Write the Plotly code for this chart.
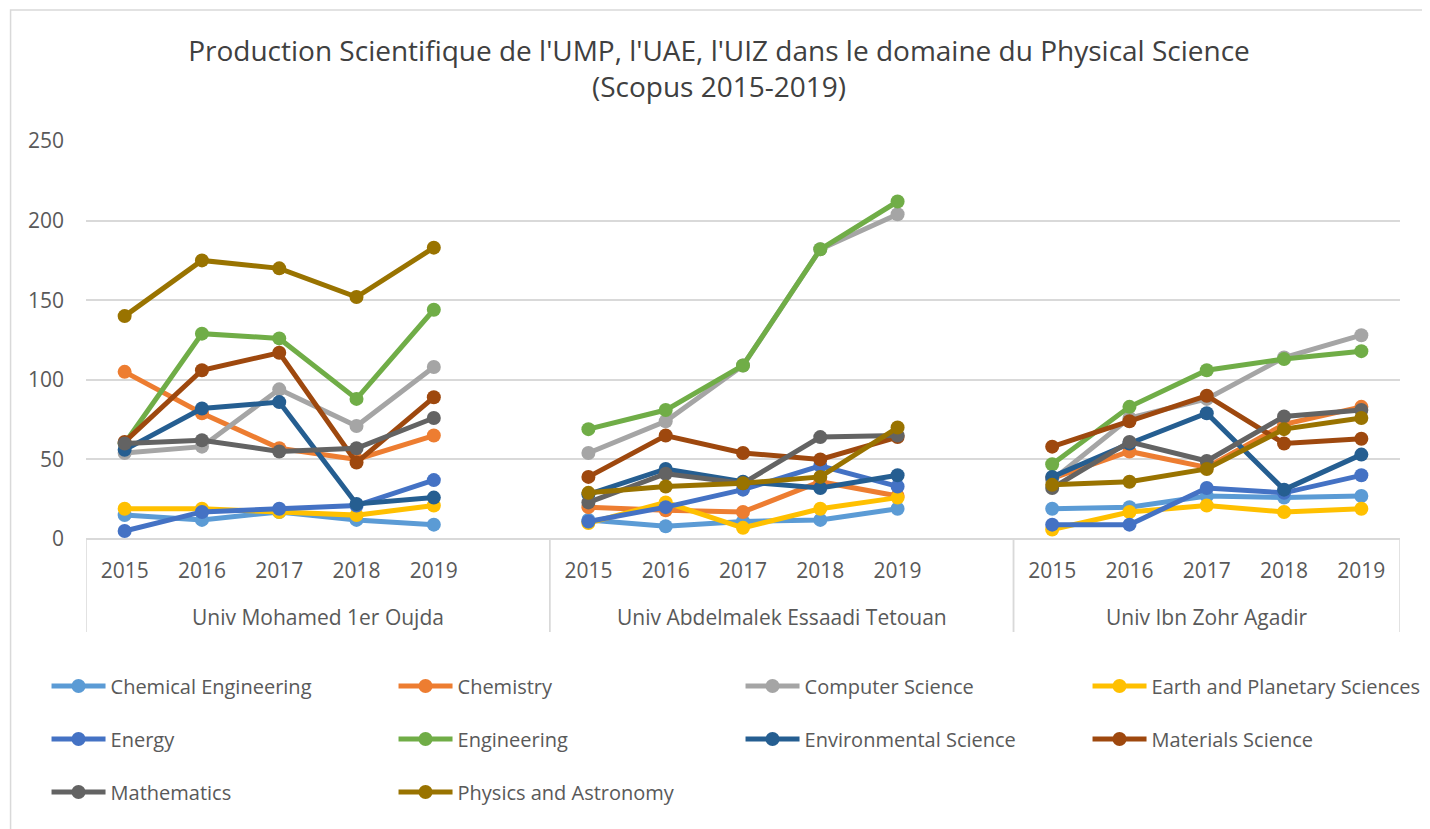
import plotly.graph_objects as go

# ---------------- data ----------------
universities = ["Univ Mohamed 1er Oujda", "Univ Abdelmalek Essaadi Tetouan", "Univ Ibn Zohr Agadir"]
years = ["2015", "2016", "2017", "2018", "2019"]

series_names = [
    "Chemical Engineering", "Chemistry", "Computer Science", "Earth and Planetary Sciences",
    "Energy", "Engineering", "Environmental Science", "Materials Science",
    "Mathematics", "Physics and Astronomy",
]

# values: Oujda 2015-2019, Tetouan 2015-2019, Agadir 2015-2019
chemical_engineering = [15, 12, 17, 12, 9,    12, 8, 11, 12, 19,     19, 20, 27, 26, 27]
chemistry            = [105, 79, 57, 50, 65,  20, 18, 17, 36, 27,    38, 55, 45, 72, 83]
computer_science     = [54, 58, 94, 71, 108,  54, 74, 109, 182, 204, 37, 76, 88, 114, 128]
earth_planetary      = [19, 19, 17, 15, 21,   10, 23, 7, 19, 26,     6, 17, 21, 17, 19]
energy               = [5, 17, 19, 21, 37,    11, 20, 31, 46, 33,    9, 9, 32, 29, 40]
engineering          = [60, 129, 126, 88, 144, 69, 81, 109, 182, 212, 47, 83, 106, 113, 118]
environmental        = [56, 82, 86, 22, 26,   28, 44, 36, 32, 40,    39, 60, 79, 31, 53]
materials            = [61, 106, 117, 48, 89, 39, 65, 54, 50, 64,    58, 74, 90, 60, 63]
mathematics          = [60, 62, 55, 57, 76,   23, 41, 35, 64, 65,    32, 61, 49, 77, 81]
physics_astronomy    = [140, 175, 170, 152, 183, 29, 33, 35, 39, 70, 34, 36, 44, 69, 76]

series_values = [
    chemical_engineering, chemistry, computer_science, earth_planetary, energy,
    engineering, environmental, materials, mathematics, physics_astronomy,
]

colors = ["#5B9BD5", "#ED7D31", "#A5A5A5", "#FFC000", "#4472C4",
          "#70AD47", "#255E91", "#9E480E", "#636363", "#997300"]

title_line1 = "Production Scientifique de l'UMP, l'UAE, l'UIZ dans le domaine du Physical Science"
title_line2 = "(Scopus 2015-2019)"

# ---------------- layout geometry (screen px; page body has an 8px margin) ----------------
OFF = 8
W, H = 1430 - OFF, 829 - OFF
PLOT_L, PLOT_R, PLOT_T, PLOT_B = 85.5, 1400.5, 141, 539
ML, MR, MT, MB = PLOT_L - OFF, W - (PLOT_R - OFF), PLOT_T - OFF, H - (PLOT_B - OFF)
PW, PH = PLOT_R - PLOT_L, PLOT_B - PLOT_T

def px_x(sx):
    return (sx - PLOT_L) / PW

def px_y(sy):
    return (PLOT_B - sy) / PH

FONT = "Open Sans"
TXT = "#595959"
GRID = "#D9D9D9"

# category positions: 5 years per group, one blank slot after groups 1 and 2
n_years = len(years)
positions, tick_labels, group_bounds = [], [], []
pos = 0
for g, uni in enumerate(universities):
    start = pos - 0.5
    for yr in years:
        positions.append(pos)
        tick_labels.append(yr)
        pos += 1
    if g < len(universities) - 1:
        pos += 1  # blank category
    group_bounds.append((start, pos - 0.5))

x_max = positions[-1] + 0.5

fig = go.Figure()
for i, (name, vals, col) in enumerate(zip(series_names, series_values, colors)):
    xs, ys = [], []
    for g in range(len(universities)):
        for k in range(n_years):
            xs.append(positions[g * n_years + k])
            ys.append(vals[g * n_years + k])
        if g < len(universities) - 1:
            xs.append(positions[g * n_years + n_years - 1] + 1)
            ys.append(None)
    row = i // 4
    fig.add_trace(go.Scatter(
        x=xs, y=ys, name=name, mode="lines+markers",
        line=dict(color=col, width=5),
        marker=dict(color=col, size=14, line=dict(width=0)),
        connectgaps=False,
        legend="legend" if row == 0 else f"legend{row + 1}",
    ))

shapes = []
# group separators below the axis
for (a, b) in group_bounds:
    for xv in (a, b):
        shapes.append(dict(type="line", xref="x", yref="paper", x0=xv, x1=xv,
                           y0=0, y1=px_y(632), line=dict(color=GRID, width=1.5)))
# chart border
shapes.append(dict(type="rect", xref="paper", yref="paper",
                   x0=px_x(10), x1=px_x(1425), y0=px_y(850), y1=px_y(10),
                   line=dict(color=GRID, width=1.5), fillcolor="rgba(0,0,0,0)", layer="below"))

annotations = []
for (a, b), uni in zip(group_bounds, universities):
    annotations.append(dict(text=uni, xref="x", yref="paper", x=(a + b) / 2, y=px_y(617),
                            showarrow=False, xanchor="center", yanchor="middle",
                            font=dict(family=FONT, size=21, color=TXT)))

legend_common = dict(orientation="h", xanchor="left", yanchor="middle",
                     entrywidth=278, entrywidthmode="pixels", itemwidth=54,
                     font=dict(family=FONT, size=20, color=TXT),
                     bgcolor="rgba(0,0,0,0)", traceorder="normal")
legend_rows_y = [686, 739, 792]
legend_x = px_x(46)

fig.update_layout(
    width=W, height=H,
    margin=dict(l=ML, r=MR, t=MT, b=MB, autoexpand=False),
    paper_bgcolor="white", plot_bgcolor="white",
    font=dict(family=FONT, color=TXT),
    title=dict(text=title_line1 + "<br>" + title_line2,
               x=(719 - OFF) / W, xanchor="center", xref="container",
               y=1 - 53 / H, yanchor="top", yref="container",
               font=dict(family=FONT, size=28, color="#404040")),
    xaxis=dict(range=[-0.5, x_max], tickvals=positions, ticktext=tick_labels,
               showgrid=False, zeroline=False, showline=False, ticks="",
               tickfont=dict(family=FONT, size=21, color=TXT), ticklabelstandoff=17),
    yaxis=dict(range=[0, 250], dtick=50, showgrid=True, gridcolor=GRID, gridwidth=1.5,
               zeroline=True, zerolinecolor=GRID, zerolinewidth=1.5, showline=False, ticks="",
               tickfont=dict(family=FONT, size=21, color=TXT), ticklabelstandoff=21),
    legend=dict(legend_common, x=legend_x, y=px_y(legend_rows_y[0])),
    legend2=dict(legend_common, x=legend_x, y=px_y(legend_rows_y[1])),
    legend3=dict(legend_common, x=legend_x, y=px_y(legend_rows_y[2])),
    shapes=shapes,
    annotations=annotations,
    showlegend=True,
)

fig.write_html("out.html")
